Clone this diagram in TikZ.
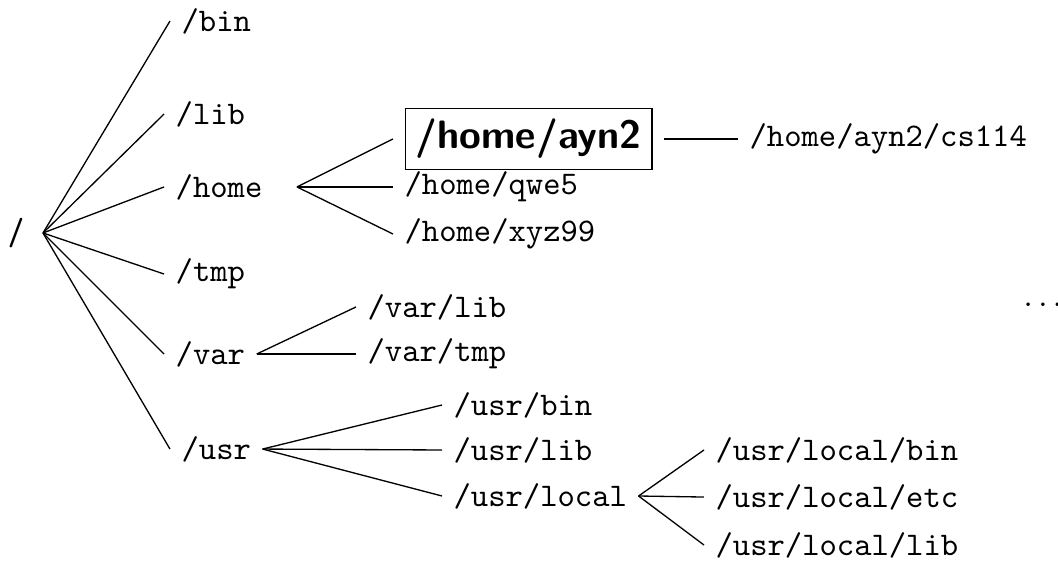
\documentclass[tikz,border=0pt]{standalone}
\begin{document}
\begin{tikzpicture}[
        dir/.style={font=\ttfamily, anchor=west},
        top/.style={font=\sffamily\bfseries\small, anchor=east, inner xsep=5.5pt}]
    \useasboundingbox (0,0) rectangle (11.267,-5.964);

        \node[top] (ROOT) at (0.458,-2.481) {/};
        \node[dir] (BIN)  at (1.810,-0.224) {/bin};
        \node[dir] (LIB)  at (1.747,-1.214) {/lib};
        \node[dir] (HOME) at (1.747,-1.991) {/home};
        \node[dir] (TMP)  at (1.747,-2.918) {/tmp};
        \node[dir] (VAR)  at (1.747,-3.770) {/var};
        \node[dir] (USR)  at (1.810,-4.782) {/usr};
        \node[dir] (AYN)  at (4.185,-1.480) {\fbox{\large\sffamily\bfseries /home/ayn2}};
        \node[dir] (QWE)  at (4.185,-1.991) {/home/qwe5};
        \node[dir] (XYZ)  at (4.185,-2.492) {/home/xyz99};
        \node[dir] (CS)   at (7.859,-1.480) {/home/ayn2/cs114};
        \node[dir] (VLIB) at (3.791,-3.269) {/var/lib};
        \node[dir] (VTMP) at (3.791,-3.770) {/var/tmp};
        \node[dir] (UBIN) at (4.707,-4.313) {/usr/bin};
        \node[dir] (ULIB) at (4.707,-4.792) {/usr/lib};
        \node[dir] (ULOC) at (4.707,-5.282) {/usr/local};
        \node[dir] (LBIN) at (7.497,-4.792) {/usr/local/bin};
        \node[dir] (LETC) at (7.497,-5.293) {/usr/local/etc};
        \node[dir] (LLIB) at (7.497,-5.804) {/usr/local/lib};
        \node[anchor=base west] (MORE) at (10.777,-3.269) {$\ldots$};

        \path [-] (ROOT.east) edge (BIN.west);
        \path [-] (ROOT.east) edge (LIB.west);
        \path [-] (ROOT.east) edge (HOME.west);
        \path [-] (ROOT.east) edge (TMP.west);
        \path [-] (ROOT.east) edge (VAR.west);
        \path [-] (ROOT.east) edge (USR.west);
        \path [-] ([xshift=0.245cm]HOME.east) edge (AYN.west);
        \path [-] ([xshift=0.245cm]HOME.east) edge (QWE.west);
        \path [-] ([xshift=0.245cm]HOME.east) edge (XYZ.west);
        \path [-] (AYN.east) edge (CS.west);
        \path [-] (VAR.east) edge (VLIB.west);
        \path [-] (VAR.east) edge (VTMP.west);
        \path [-] (USR.east) edge (UBIN.west);
        \path [-] (USR.east) edge (ULIB.west);
        \path [-] (USR.east) edge (ULOC.west);
        \path [-] (ULOC.east) edge (LBIN.west);
        \path [-] (ULOC.east) edge (LETC.west);
        \path [-] (ULOC.east) edge (LLIB.west);
    \end{tikzpicture}
\end{document}
